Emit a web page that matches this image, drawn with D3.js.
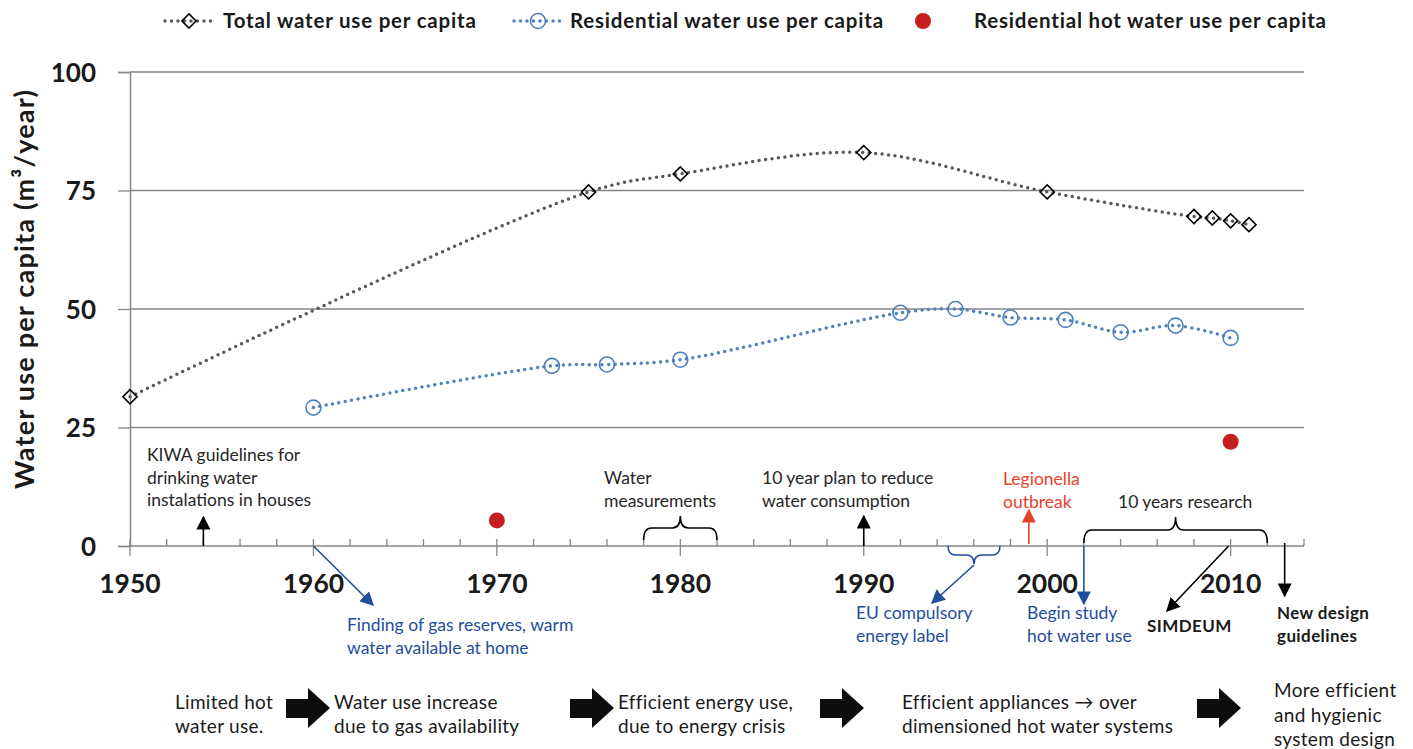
<!DOCTYPE html>
<html>
<head>
<meta charset="utf-8">
<script src="https://cdn.jsdelivr.net/npm/d3@7"></script>
<style>
body { margin: 0; background: #fff; }
svg text { font-family: Lato, "Open Sans", sans-serif; }
</style>
</head>
<body>
<div id="chart"></div>
<script>
var width = 1413, height = 749;

// data
var totalYears = [1950, 1975, 1980, 1990, 2000, 2008, 2009, 2010, 2011];
var totalValues = [31.5, 74.7, 78.5, 83, 74.7, 69.5, 69.2, 68.6, 67.8];
var resYears = [1960, 1973, 1976, 1980, 1992, 1995, 1998, 2001, 2004, 2007, 2010];
var resValues = [29.2, 38, 38.3, 39.3, 49.2, 50, 48.2, 47.7, 45.1, 46.5, 43.9];
var hotYears = [1970, 2010];
var hotValues = [5.4, 22];
var yTicks = [0, 25, 50, 75, 100];
var xTicks = [1950, 1960, 1970, 1980, 1990, 2000, 2010];
var seriesNames = ["Total water use per capita", "Residential water use per capita", "Residential hot water use per capita"];
var phases = [
  ["Limited hot", "water use."],
  ["Water use increase", "due to gas availability"],
  ["Efficient energy use,", "due to energy crisis"],
  ["Efficient appliances  \u2192 over", "dimensioned hot water systems"],
  ["More efficient", "and hygienic", "system design"]
];

var svg = d3.select("#chart").append("svg").attr("width", width).attr("height", height);

var x = d3.scaleLinear().domain([1950, 2014]).range([130, 1304]);
var y = d3.scaleLinear().domain([0, 100]).range([546, 72]);

var grey = "#595959", blue = "#4F81BD", red = "#C41E1E", darkBlue = "#1F4E9C", axisCol = "#868686";

// gridlines
svg.append("g").selectAll("line").data(yTicks.filter(function(d) { return d > 0; }))
  .enter().append("line")
  .attr("x1", x(1950)).attr("x2", x(2014))
  .attr("y1", function(d) { return y(d); }).attr("y2", function(d) { return y(d); })
  .attr("stroke", axisCol).attr("stroke-width", 1.3);

// y axis
var yAxis = svg.append("g").attr("transform", "translate(" + x(1950) + ",0)")
  .call(d3.axisLeft(y).tickValues(yTicks).tickSize(12).tickPadding(22));
yAxis.select(".domain").attr("stroke", axisCol).attr("stroke-width", 1.5);
yAxis.selectAll(".tick line").attr("stroke", axisCol).attr("stroke-width", 1.3);
yAxis.selectAll("text").attr("font-size", 26).attr("font-weight", "bold").attr("fill", "#1a1a1a")
  .attr("font-family", "Lato, sans-serif").attr("dy", "0.36em");

// x axis: minor ticks inside, major crossing
var xg = svg.append("g");
xg.append("line").attr("x1", x(1950)).attr("x2", x(2014)).attr("y1", y(0)).attr("y2", y(0))
  .attr("stroke", axisCol).attr("stroke-width", 1.5);
xg.selectAll(".minor").data(d3.range(1952, 2015, 2).filter(function(d) { return d % 10 !== 0; }))
  .enter().append("line")
  .attr("x1", function(d) { return x(d); }).attr("x2", function(d) { return x(d); })
  .attr("y1", y(0) - 7).attr("y2", y(0))
  .attr("stroke", axisCol).attr("stroke-width", 1.3);
xg.selectAll(".major").data(xTicks)
  .enter().append("line")
  .attr("x1", function(d) { return x(d); }).attr("x2", function(d) { return x(d); })
  .attr("y1", y(0) - 7).attr("y2", y(0) + 10)
  .attr("stroke", axisCol).attr("stroke-width", 1.3);
xg.selectAll("text").data(xTicks)
  .enter().append("text")
  .attr("x", function(d) { return x(d); }).attr("y", 593)
  .attr("text-anchor", "middle").attr("font-size", 26.5).attr("font-weight", "bold").attr("fill", "#1a1a1a")
  .text(function(d) { return d; });

// y axis title
svg.append("text")
  .attr("transform", "translate(34,289) rotate(-90)")
  .attr("text-anchor", "middle").attr("font-size", 27).attr("font-weight", "bold").attr("fill", "#1a1a1a")
  .attr("letter-spacing", 1.2)
  .text("Water use per capita (m\u00b3/year)");

// lines
var line = d3.line()
  .x(function(d) { return x(d[0]); })
  .y(function(d) { return y(d[1]); })
  .curve(d3.curveCatmullRom.alpha(0.5));

var totalData = d3.zip(totalYears, totalValues);
var resData = d3.zip(resYears, resValues);
var hotData = d3.zip(hotYears, hotValues);

svg.append("path").datum(totalData).attr("d", line)
  .attr("fill", "none").attr("stroke", grey).attr("stroke-width", 3.5)
  .attr("stroke-linecap", "round").attr("stroke-dasharray", "0,6.5");
svg.append("path").datum(resData).attr("d", line)
  .attr("fill", "none").attr("stroke", blue).attr("stroke-width", 3.5)
  .attr("stroke-linecap", "round").attr("stroke-dasharray", "0,6.5");

var diamond = d3.symbol().type(d3.symbolSquare).size(100);
svg.selectAll(".dia").data(totalData).enter().append("path")
  .attr("d", diamond)
  .attr("transform", function(d) { return "translate(" + x(d[0]) + "," + y(d[1]) + ") rotate(45)"; })
  .attr("fill", "none").attr("stroke", "#000").attr("stroke-width", 1.6);

svg.selectAll(".circ").data(resData).enter().append("circle")
  .attr("cx", function(d) { return x(d[0]); }).attr("cy", function(d) { return y(d[1]); })
  .attr("r", 7.5).attr("fill", "none").attr("stroke", blue).attr("stroke-width", 1.6);

svg.selectAll(".hot").data(hotData).enter().append("circle")
  .attr("cx", function(d) { return x(d[0]); }).attr("cy", function(d) { return y(d[1]); })
  .attr("r", 8).attr("fill", red);

// legend
var leg = svg.append("g");
leg.append("line").attr("x1", 165).attr("x2", 213).attr("y1", 21).attr("y2", 21)
  .attr("stroke", grey).attr("stroke-width", 3.5).attr("stroke-linecap", "round").attr("stroke-dasharray", "0,6.5");
leg.append("path").attr("d", diamond).attr("transform", "translate(189,21) rotate(45)")
  .attr("fill", "none").attr("stroke", "#000").attr("stroke-width", 1.6);
leg.append("line").attr("x1", 514).attr("x2", 562).attr("y1", 21).attr("y2", 21)
  .attr("stroke", blue).attr("stroke-width", 3.5).attr("stroke-linecap", "round").attr("stroke-dasharray", "0,6.5");
leg.append("circle").attr("cx", 538).attr("cy", 21).attr("r", 7.5)
  .attr("fill", "none").attr("stroke", blue).attr("stroke-width", 1.6);
leg.append("circle").attr("cx", 923).attr("cy", 21).attr("r", 8).attr("fill", red);
leg.selectAll("text").data(seriesNames).enter().append("text")
  .attr("x", function(d, i) { return [223, 570, 974][i]; }).attr("y", 28)
  .attr("font-size", 20.5).attr("font-weight", "bold").attr("fill", "#1a1a1a")
  .attr("letter-spacing", 0.8)
  .text(function(d) { return d; });

// arrowheads
var defs = svg.append("defs");
[["ah-black", "#000"], ["ah-blue", darkBlue], ["ah-red", "#E8412C"]].forEach(function(m) {
  defs.append("marker").attr("id", m[0]).attr("viewBox", "0 0 10 10")
    .attr("refX", 9).attr("refY", 5)
    .attr("markerUnits", "userSpaceOnUse").attr("orient", "auto")
    .attr("markerWidth", 14).attr("markerHeight", 14)
    .append("path").attr("d", "M0,0 L10,5 L0,10 Z").attr("fill", m[1]);
});

function arrow(x1, y1, x2, y2, col, id) {
  svg.append("line").attr("x1", x1).attr("y1", y1).attr("x2", x2).attr("y2", y2)
    .attr("stroke", col).attr("stroke-width", 1.6).attr("marker-end", "url(#" + id + ")");
}

function brace(x0, x1, yb, h, col, dir) {
  // dir -1: tip upward, +1: tip downward
  var xm = (x0 + x1) / 2, q = h / 2;
  var p = "M" + x0 + "," + yb +
    " Q" + x0 + "," + (yb + dir * q) + " " + (x0 + 8) + "," + (yb + dir * q) +
    " L" + (xm - 8) + "," + (yb + dir * q) +
    " Q" + xm + "," + (yb + dir * q) + " " + xm + "," + (yb + dir * h) +
    " Q" + xm + "," + (yb + dir * q) + " " + (xm + 8) + "," + (yb + dir * q) +
    " L" + (x1 - 8) + "," + (yb + dir * q) +
    " Q" + x1 + "," + (yb + dir * q) + " " + x1 + "," + yb;
  svg.append("path").attr("d", p).attr("fill", "none").attr("stroke", col).attr("stroke-width", 1.6);
}

function label(lines, x0, y0, col, bold, size, lh, ls) {
  var t = svg.append("text").attr("x", x0).attr("y", y0)
    .attr("font-size", size || 17.5).attr("fill", col)
    .attr("letter-spacing", ls || 0)
    .attr("font-weight", bold ? "bold" : "normal");
  lines.forEach(function(s, i) {
    t.append("tspan").attr("x", x0).attr("dy", i === 0 ? 0 : (lh || 22.5)).text(s);
  });
}

// annotations above the axis
label(["KIWA guidelines for", "drinking water", "instalations in houses"], 147, 461, "#262626");
arrow(x(1954), y(0), x(1954), 517, "#000", "ah-black");

label(["Water", "measurements"], 604, 484, "#262626");
brace(x(1978), x(1982), 540, 24, "#000", -1);

label(["10 year plan to reduce", "water consumption"], 762, 484, "#262626");
arrow(x(1990), y(0), x(1990), 516, "#000", "ah-black");

label(["Legionella", "outbreak"], 1003, 485, "#E8412C");
arrow(x(1999), 544, x(1999), 510, "#E8412C", "ah-red");

label(["10 years research"], 1118, 508, "#262626");
brace(x(2002), x(2012), 543, 26, "#000", -1);

// annotations below the axis
arrow(x(1960), y(0), 373, 605, darkBlue, "ah-blue");
label(["Finding of gas reserves, warm", "water available at home"], 347, 631, darkBlue);

brace(948, 1000, 546, 18, darkBlue, 1);
arrow(974, 565, 932, 603, darkBlue, "ah-blue");
label(["EU compulsory", "energy label"], 856, 619, darkBlue);

arrow(x(2002), y(0), x(2002), 604, darkBlue, "ah-blue");
label(["Begin study", "hot water use"], 1027, 619, darkBlue);

arrow(x(2010) - 2, y(0), 1167, 611, "#000", "ah-black");
label(["SIMDEUM"], 1147, 632, "#1a1a1a", true, 17, 22, 0.4);

arrow(x(2013) - 1, 543, x(2013) - 1, 596, "#000", "ah-black");
label(["New design", "guidelines"], 1277, 619, "#1a1a1a", true, 17, 23, 0.4);

// bottom phase row
var phaseX = [175, 334, 618, 902, 1274];
var arrowX = [286, 570, 820, 1197];
phases.forEach(function(p, i) {
  if (p.length === 3) label(p, phaseX[i], 697, "#1a1a1a", false, 19, 24.5, 0.3);
  else label(p, phaseX[i], 709, "#1a1a1a", false, 19, 24, 0.3);
});
svg.selectAll(".blk").data(arrowX).enter().append("path")
  .attr("d", function(d) {
    return "M" + d + ",699 L" + (d + 22) + ",699 L" + (d + 22) + ",688 L" + (d + 44) + ",708 L" +
      (d + 22) + ",728 L" + (d + 22) + ",718 L" + d + ",718 Z";
  })
  .attr("fill", "#0d0d0d");
</script>
</body>
</html>
